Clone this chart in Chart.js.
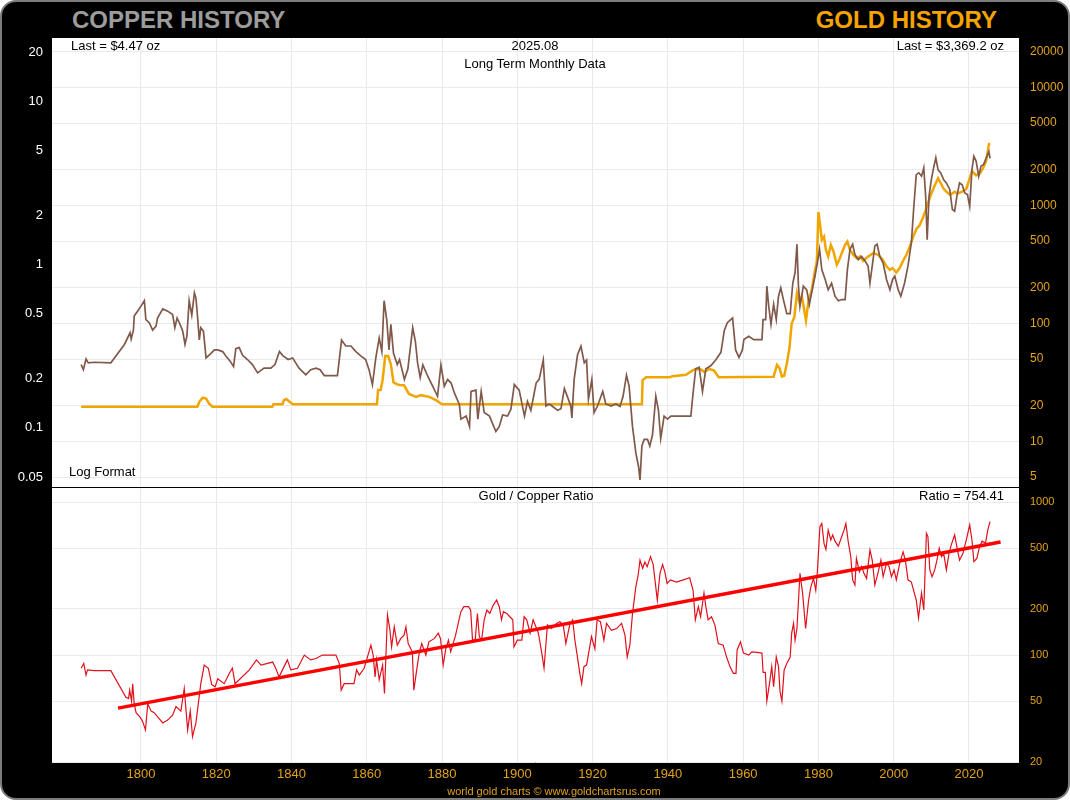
<!DOCTYPE html>
<html>
<head>
<meta charset="utf-8">
<script src="https://cdn.jsdelivr.net/npm/chart.js@4.4.0/dist/chart.umd.min.js"></script>
<style>
  html, body { margin:0; padding:0; background:#ffffff; }
  body { width:1070px; height:800px; position:relative; overflow:hidden; font-family:"Liberation Sans", Arial, sans-serif; }
  #frame { position:absolute; left:0; top:0; width:1070px; height:800px; box-sizing:border-box; background:#000; border:2px solid #7d7d7d; border-radius:16px; }
  #white { position:absolute; left:52px; top:38px; width:967px; height:724px; background:#fff; }
  #divider { position:absolute; left:52px; top:487px; width:967px; height:1px; background:#000; z-index:3; }
  .wrap { position:absolute; left:0; width:1070px; z-index:2; }
  .t { position:absolute; white-space:nowrap; line-height:16px; z-index:4; }
  .title { font-weight:bold; font-size:24px; line-height:28px; }
</style>
</head>
<body>
<div id="frame"></div>
<div id="white"></div>
<div class="wrap" style="top:38px;height:449px;"><canvas id="top"></canvas></div>
<div class="wrap" style="top:487px;height:313px;"><canvas id="bottom"></canvas></div>
<div id="divider"></div>

<div class="t title" style="left:72px;top:6px;color:#9c9c9c;">COPPER HISTORY</div>
<div class="t title" style="right:73px;top:6px;color:#f5a300;">GOLD HISTORY</div>
<div class="t" style="left:71px;top:38px;font-size:13px;color:#000;">Last = $4.47 oz</div>
<div class="t" style="left:435px;width:200px;text-align:center;top:38px;font-size:13px;color:#000;">2025.08</div>
<div class="t" style="left:435px;width:200px;text-align:center;top:56px;font-size:13px;color:#000;">Long Term Monthly Data</div>
<div class="t" style="right:66px;top:38px;font-size:13px;color:#000;">Last = $3,369.2 oz</div>
<div class="t" style="left:69px;top:464px;font-size:13px;color:#000;">Log Format</div>
<div class="t" style="left:436px;width:200px;text-align:center;top:488px;font-size:13px;color:#000;">Gold / Copper Ratio</div>
<div class="t" style="right:66px;top:488px;font-size:13px;color:#000;">Ratio = 754.41</div>
<div class="t" style="left:354px;width:400px;text-align:center;top:783px;font-size:11px;color:#e0a020;">world gold charts © www.goldchartsrus.com</div>

<script>
// ---------------- DATA ----------------
const yearTicks = [1800,1820,1840,1860,1880,1900,1920,1940,1960,1980,2000,2020];
const copperTicks = [0.05,0.1,0.2,0.5,1,2,5,10,20];
const goldTicks = [5,10,20,50,100,200,500,1000,2000,5000,10000,20000];
const ratioTicks = [20,50,100,200,500,1000];

const copperYears = [1784.1,1784.7,1785.4,1786.0,1787.6,1792.0,1795.6,1797.1,1797.4,1798.0,1798.2,1799.1,1800.0,1800.9,1801.3,1802.2,1803.1,1804.0,1804.4,1805.8,1807.1,1808.4,1809.0,1809.6,1810.2,1811.1,1811.7,1812.2,1812.8,1813.5,1814.2,1814.6,1815.0,1815.5,1815.9,1816.6,1817.3,1818.6,1819.5,1820.4,1821.7,1822.6,1823.7,1824.6,1825.2,1826.1,1827.0,1828.3,1829.6,1831.0,1832.7,1834.5,1835.6,1836.8,1837.6,1839.1,1840.3,1842.0,1843.8,1845.1,1846.5,1847.6,1848.7,1852.2,1853.3,1854.4,1855.8,1857.1,1858.4,1859.7,1860.6,1861.5,1862.4,1863.3,1864.0,1864.6,1865.3,1865.9,1866.4,1867.1,1868.1,1868.7,1870.0,1870.9,1872.2,1872.9,1873.5,1874.2,1874.9,1876.2,1877.5,1878.8,1879.7,1880.6,1881.5,1882.4,1883.3,1884.6,1885.0,1886.4,1887.3,1887.7,1889.0,1889.5,1890.4,1891.2,1892.6,1894.3,1895.2,1896.1,1897.4,1898.3,1899.2,1900.5,1901.9,1902.7,1903.6,1905.0,1905.8,1906.9,1907.6,1908.5,1909.4,1910.7,1911.6,1912.5,1913.4,1914.2,1914.5,1915.1,1916.0,1916.9,1917.8,1918.4,1918.9,1919.8,1920.4,1921.3,1922.7,1923.5,1924.9,1926.2,1927.3,1928.1,1929.0,1929.7,1930.6,1931.5,1932.2,1932.6,1933.1,1933.7,1934.6,1935.2,1935.9,1936.8,1937.5,1938.1,1939.0,1939.9,1940.8,1946.1,1946.7,1947.4,1948.3,1949.2,1950.1,1951.4,1952.7,1954.1,1955.0,1955.8,1957.2,1958.0,1958.9,1959.8,1960.2,1961.5,1962.8,1965.0,1965.3,1966.0,1966.3,1966.8,1967.4,1968.1,1968.8,1969.4,1970.0,1970.7,1971.6,1972.5,1973.2,1973.8,1974.3,1974.7,1975.1,1976.0,1976.9,1977.6,1978.2,1979.1,1979.7,1980.3,1980.9,1981.8,1982.6,1983.5,1984.4,1985.3,1986.2,1987.1,1987.7,1988.4,1989.1,1989.7,1990.6,1991.5,1992.4,1993.2,1993.7,1994.4,1995.0,1995.6,1996.3,1997.2,1998.1,1999.0,1999.7,2000.3,2001.2,2001.9,2002.9,2003.8,2004.7,2005.3,2006.0,2006.7,2007.4,2008.0,2008.5,2008.9,2009.4,2010.0,2010.6,2011.2,2011.8,2012.5,2013.3,2014.0,2014.9,2015.6,2016.2,2016.8,2017.5,2018.2,2018.9,2019.6,2020.2,2020.8,2021.3,2021.9,2022.6,2023.2,2023.9,2024.6,2025.3,2025.6];
const copperValues = [0.244,0.227,0.264,0.25,0.252,0.25,0.324,0.382,0.35,0.396,0.483,0.518,0.556,0.6,0.46,0.44,0.396,0.42,0.47,0.535,0.518,0.494,0.41,0.47,0.44,0.39,0.324,0.364,0.6,0.49,0.67,0.625,0.49,0.345,0.41,0.39,0.268,0.286,0.3,0.3,0.293,0.274,0.256,0.237,0.305,0.31,0.278,0.262,0.244,0.217,0.232,0.232,0.244,0.293,0.278,0.262,0.268,0.232,0.211,0.227,0.232,0.227,0.209,0.209,0.345,0.317,0.317,0.293,0.276,0.262,0.227,0.184,0.268,0.355,0.293,0.6,0.46,0.3,0.43,0.286,0.244,0.262,0.198,0.228,0.41,0.34,0.25,0.203,0.243,0.207,0.18,0.156,0.243,0.18,0.198,0.188,0.163,0.139,0.113,0.118,0.102,0.167,0.17,0.113,0.167,0.124,0.118,0.095,0.102,0.12,0.118,0.13,0.184,0.17,0.118,0.145,0.128,0.188,0.198,0.26,0.136,0.14,0.135,0.128,0.131,0.174,0.153,0.136,0.115,0.198,0.28,0.316,0.25,0.26,0.15,0.198,0.124,0.136,0.167,0.14,0.136,0.14,0.135,0.156,0.21,0.18,0.102,0.07,0.058,0.048,0.0775,0.085,0.085,0.0775,0.09,0.156,0.128,0.086,0.118,0.113,0.118,0.118,0.163,0.23,0.235,0.167,0.23,0.24,0.26,0.29,0.395,0.44,0.47,0.30,0.27,0.30,0.347,0.364,0.347,0.347,0.46,0.46,0.737,0.556,0.43,0.57,0.46,0.64,0.72,0.61,0.5,0.5,0.77,0.89,1.33,0.737,0.556,0.737,0.70,0.57,0.67,0.85,1.02,1.24,0.93,0.81,0.70,0.77,0.64,0.60,0.61,0.61,0.93,1.24,1.33,1.15,1.07,1.12,1.05,0.98,0.77,1.02,1.30,1.33,1.12,1.02,0.81,0.70,0.81,0.85,0.70,0.64,0.77,0.98,1.36,2.17,3.55,3.64,3.47,3.9,2.62,1.42,2.62,3.3,3.9,4.5,3.8,3.64,3.3,3.16,2.88,2.17,2.12,2.62,3.16,3.08,2.74,2.68,2.27,3.8,4.6,4.3,3.47,4.0,4.1,4.5,4.9,4.47];

const goldYears = [1784.1,1815.0,1815.5,1816.4,1817.3,1818.1,1819.0,1834.9,1835.2,1837.6,1838.0,1838.6,1839.4,1840.3,1862.7,1863.0,1863.7,1864.2,1864.9,1865.7,1866.4,1867.1,1868.1,1868.7,1869.9,1871.2,1873.1,1874.4,1876.6,1878.4,1880.0,1933.1,1933.3,1934.2,1940.4,1941.3,1944.8,1946.6,1947.4,1948.8,1949.7,1951.0,1952.3,1953.5,1968.1,1969.0,1969.7,1970.3,1970.9,1971.6,1972.3,1972.9,1973.6,1974.3,1975.0,1975.6,1976.2,1976.7,1977.4,1978.2,1978.9,1979.6,1980.0,1980.4,1980.9,1981.5,1982.0,1982.6,1983.3,1984.0,1984.9,1985.6,1986.2,1987.1,1987.7,1988.4,1989.3,1990.2,1991.1,1991.9,1993.2,1994.6,1995.9,1997.0,1998.1,1999.0,1999.7,2000.7,2001.6,2002.7,2003.4,2004.3,2005.2,2006.0,2006.9,2007.8,2008.5,2009.1,2010.0,2010.9,2011.8,2012.6,2013.3,2014.0,2015.0,2016.2,2017.0,2018.2,2019.3,2020.2,2020.8,2021.9,2022.8,2023.7,2024.6,2025.3,2025.6];
const goldValues = [19.7,19.7,21.7,23.5,23.1,20.9,19.7,19.7,20.67,20.67,22.4,22.9,21.8,20.67,20.67,27.3,27.3,33.2,53,53,45,31.7,30.5,30.1,30,25.3,23.9,24.7,23.9,22.4,20.67,20.67,33.2,35,35,35.8,36.8,40.0,41.2,40.7,38.8,41.2,40,35,35.4,44.5,41.6,35.4,36,45.5,62,100,113,180,150,170,132,106,158,190,260,340,880,707,510,545,420,370,464,408,315,350,395,464,495,420,382,358,370,340,370,395,382,350,305,285,295,270,295,350,382,450,545,630,680,790,915,1050,1260,1480,1700,1530,1380,1310,1230,1310,1260,1310,1380,1700,1960,1800,1860,2050,2400,3300,3370];

const ratioYears = [1784.1,1784.8,1785.4,1785.8,1787.6,1792.0,1796.0,1796.7,1797.0,1797.5,1797.8,1798.2,1798.7,1799.7,1800.4,1801.2,1801.8,1802.7,1803.5,1805.8,1807.1,1808.4,1809.3,1810.6,1811.5,1812.4,1813.1,1813.7,1814.6,1815.9,1816.8,1817.9,1818.8,1819.7,1820.4,1822.1,1823.5,1824.3,1825.0,1826.1,1828.8,1830.7,1831.9,1835.0,1835.8,1836.7,1837.6,1838.9,1839.8,1841.6,1843.4,1845.1,1846.5,1848.2,1851.8,1852.7,1853.2,1854.0,1856.6,1857.3,1858.0,1859.3,1861.1,1861.7,1862.2,1862.6,1863.3,1864.2,1864.7,1865.5,1866.1,1866.6,1867.3,1868.1,1869.0,1869.9,1870.4,1871.0,1872.1,1872.5,1873.0,1873.9,1874.6,1875.7,1876.5,1877.9,1879.0,1879.6,1880.3,1881.0,1881.7,1882.3,1883.6,1885.0,1885.8,1887.0,1887.6,1888.1,1888.8,1889.4,1889.9,1890.5,1891.2,1891.9,1892.7,1893.6,1894.5,1895.2,1895.8,1896.3,1897.2,1898.0,1898.8,1899.1,1900.0,1901.2,1901.8,1902.5,1903.4,1904.2,1905.6,1906.5,1907.1,1908.0,1909.1,1910.4,1911.3,1912.2,1912.9,1914.0,1914.7,1915.3,1915.9,1916.6,1917.1,1917.7,1918.4,1919.1,1919.7,1920.6,1921.2,1922.1,1923.0,1923.7,1925.0,1926.4,1927.7,1928.6,1929.2,1929.9,1930.6,1931.5,1932.1,1932.6,1933.3,1933.9,1934.5,1935.4,1936.1,1937.2,1937.9,1938.6,1939.2,1939.8,1940.7,1942.3,1944.1,1945.8,1946.7,1947.3,1948.1,1948.7,1949.6,1950.1,1950.7,1951.6,1952.5,1953.4,1954.7,1955.6,1956.5,1957.4,1958.1,1958.4,1959.3,1960.1,1961.5,1962.3,1963.7,1965.0,1965.3,1965.9,1966.3,1967.0,1967.6,1968.1,1968.8,1969.4,1969.8,1970.3,1970.9,1971.6,1972.5,1972.9,1973.4,1973.8,1974.3,1975.1,1975.8,1976.6,1977.4,1978.0,1978.7,1979.3,1979.7,1980.4,1980.9,1981.5,1982.0,1982.6,1983.3,1983.8,1984.4,1985.3,1986.2,1986.8,1987.3,1987.9,1988.6,1989.1,1989.7,1990.1,1990.9,1991.5,1992.1,1992.8,1993.7,1994.3,1995.0,1995.9,1996.6,1997.2,1998.1,1998.8,1999.4,2000.1,2000.7,2001.6,2002.5,2003.1,2003.8,2004.7,2005.3,2006.0,2006.6,2007.4,2008.0,2008.7,2009.1,2009.6,2010.2,2010.9,2011.5,2012.1,2012.7,2013.3,2014.0,2014.7,2015.3,2016.2,2016.8,2017.5,2018.4,2019.3,2020.2,2020.8,2021.3,2022.1,2022.8,2023.5,2024.4,2025.0,2025.6];
const ratioValues = [82,88,74,80,79,79,53,52,59,50,65,48,42,39.5,37,32.4,48,43,42,36,37.6,40.5,46,43,60.5,32.4,43,29.3,36,65,86,82,64,62,70,65,76,82,65,69,80,93,86,90,82,72,80,93,80,82,100,93,95,100,100,88,59,65,65,80,74,82,116,100,72,93,69,86,56,183,149,113,153,116,128,135,153,119,105,59,72,102,119,100,122,128,139,128,86,110,125,105,135,192,207,207,197,125,125,187,132,125,170,197,187,212,229,207,170,192,187,178,170,113,125,125,178,170,139,170,139,103,82,157,149,161,165,157,119,161,170,125,100,76,65,84,86,108,132,110,170,165,125,161,145,149,161,135,97,116,187,280,333,417,369,405,378,440,390,228,342,390,350,294,310,300,310,320,265,170,207,178,254,207,170,178,157,119,116,97,84,76,76,108,122,103,100,105,104,103,77,77,50,65,84,62,97,84,58,50,80,88,97,139,161,125,149,342,254,149,229,280,317,265,342,690,725,535,490,655,565,610,555,515,595,655,725,555,440,310,287,428,350,378,342,317,485,417,287,350,417,325,397,378,325,360,310,397,472,417,310,300,265,229,175,254,197,625,595,360,325,360,417,500,440,460,360,460,525,610,510,417,460,565,710,565,408,428,510,555,540,655,745];

const trendYears = [1793.9, 2028.4];
const trendValues = [45, 548];

// ---------------- HELPERS ----------------
const pts = (xs, ys) => xs.map((x, i) => ({x: x, y: ys[i]}));
const FONT = "'Liberation Sans', Arial, sans-serif";
const GRID = '#e7ebef';
const ORANGE = '#e3a21a';
const setTicks = arr => (s) => { s.ticks = arr.map(v => ({value: v})); };
const fixW = w => (s) => { s.width = w; s.paddingTop = 0; s.paddingBottom = 0; s.paddingLeft = 0; s.paddingRight = 0; };
const fixH = h => (s) => { s.height = h; s.paddingTop = 0; s.paddingBottom = 0; s.paddingLeft = 0; s.paddingRight = 0; };
const X_MIN = 1776.36, X_MAX = 2033.3;

// ---------------- TOP CHART ----------------
new Chart(document.getElementById('top'), {
  type: 'line',
  data: {
    datasets: [
      { label: 'Copper', data: pts(copperYears, copperValues), yAxisID: 'yCu',
        borderColor: '#80594a', borderWidth: 1.7, pointRadius: 0, tension: 0 },
      { label: 'Gold', data: pts(goldYears, goldValues), yAxisID: 'yAu',
        borderColor: '#f0a500', borderWidth: 2.5, pointRadius: 0, tension: 0 }
    ]
  },
  options: {
    responsive: true, maintainAspectRatio: false, animation: false,
    layout: { padding: 0, autoPadding: false },
    plugins: { legend: { display: false }, tooltip: { enabled: false } },
    scales: {
      x: { type: 'linear', min: X_MIN, max: X_MAX,
        afterBuildTicks: setTicks(yearTicks), afterFit: fixH(0),
        ticks: { display: false },
        grid: { color: GRID, drawTicks: false }, border: { display: false } },
      yCu: { type: 'logarithmic', position: 'left', min: 0.04343, max: 24.36,
        afterBuildTicks: setTicks(copperTicks), afterFit: fixW(52),
        ticks: { color: '#ffffff', font: { family: FONT, size: 13 }, padding: 9, callback: v => String(v) },
        grid: { display: false, drawTicks: false }, border: { display: false } },
      yAu: { type: 'logarithmic', position: 'right', min: 4.114, max: 26280,
        afterBuildTicks: setTicks(goldTicks), afterFit: fixW(51),
        ticks: { color: ORANGE, font: { family: FONT, size: 12 }, padding: 11, callback: v => String(v) },
        grid: { color: GRID, drawTicks: false }, border: { display: false } }
    }
  }
});

// ---------------- BOTTOM CHART ----------------
new Chart(document.getElementById('bottom'), {
  type: 'line',
  data: {
    datasets: [
      { label: 'Trend', data: pts(trendYears, trendValues), yAxisID: 'yR',
        borderColor: '#ff0000', borderWidth: 3.5, pointRadius: 0, tension: 0 },
      { label: 'Gold / Copper Ratio', data: pts(ratioYears, ratioValues), yAxisID: 'yR',
        borderColor: '#e0101c', borderWidth: 1.2, pointRadius: 0, tension: 0 }
    ]
  },
  options: {
    responsive: true, maintainAspectRatio: false, animation: false,
    layout: { padding: { left: 52, right: 0, top: 0, bottom: 0 }, autoPadding: false },
    plugins: { legend: { display: false }, tooltip: { enabled: false } },
    scales: {
      x: { type: 'linear', min: X_MIN, max: X_MAX,
        afterBuildTicks: setTicks(yearTicks), afterFit: fixH(38),
        ticks: { color: ORANGE, font: { family: FONT, size: 13 }, padding: 5, callback: v => String(v), maxRotation: 0, autoSkip: false },
        grid: { color: GRID, drawTicks: false }, border: { display: false } },
      yR: { type: 'logarithmic', position: 'right', min: 20, max: 1254,
        afterBuildTicks: setTicks(ratioTicks), afterFit: fixW(51),
        ticks: { color: ORANGE, font: { family: FONT, size: 11 }, padding: 11, callback: v => String(v) },
        grid: { color: GRID, drawTicks: false }, border: { display: false } }
    }
  }
});
</script>
</body>
</html>
